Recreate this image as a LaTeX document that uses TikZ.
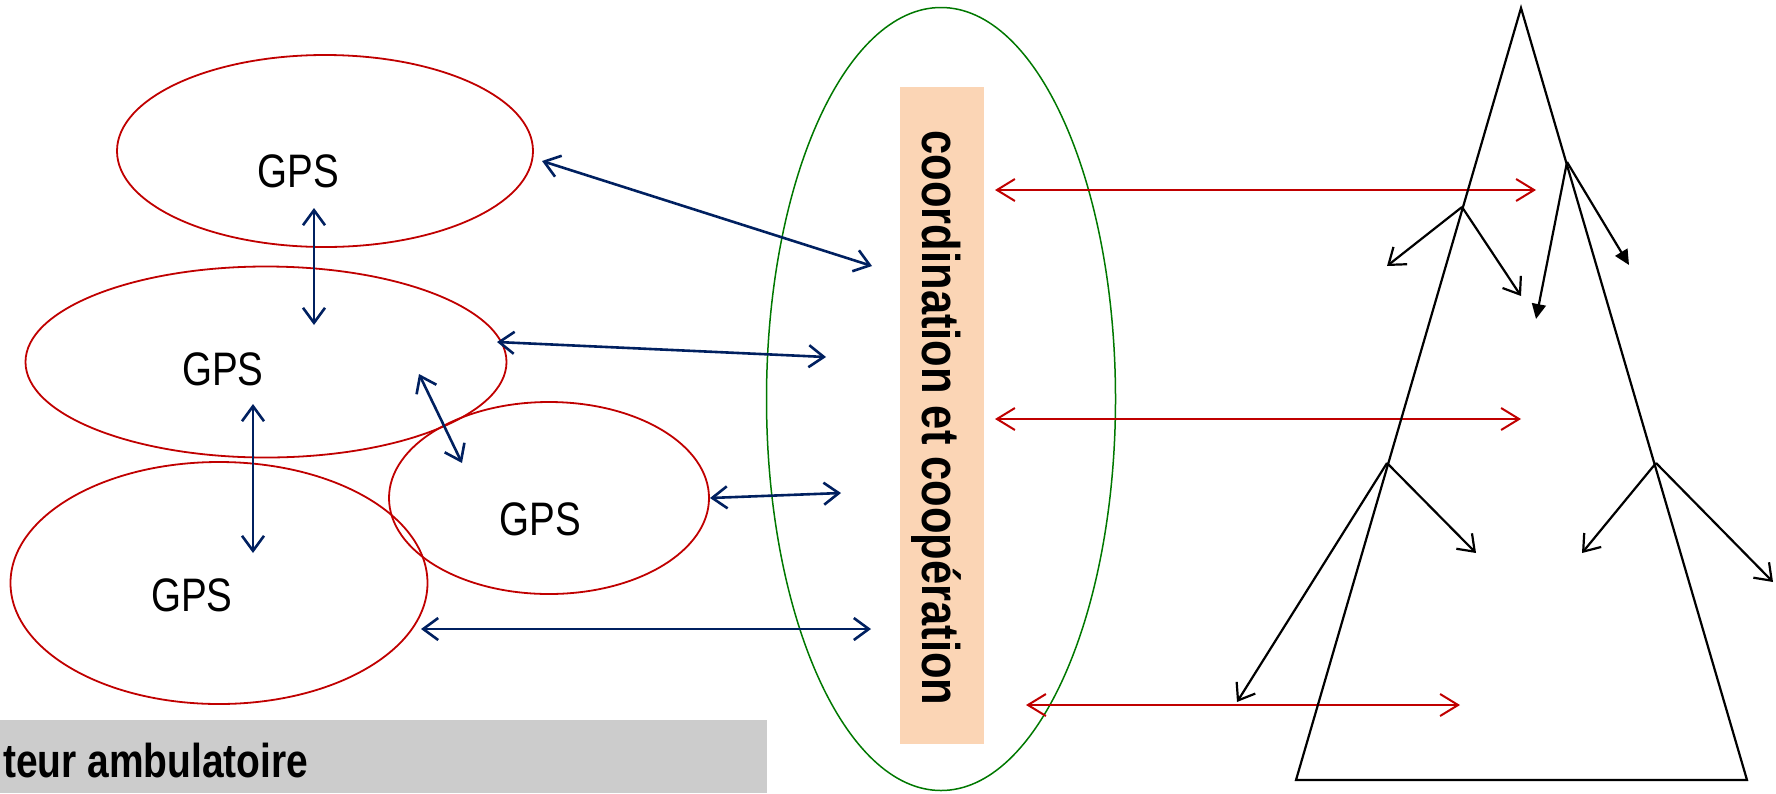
\documentclass[tikz,border=0pt]{standalone}
\usepackage{fontspec}
\setmainfont{Liberation Sans}[FakeStretch=0.82]
\usepackage{xcolor}
\usepackage{tikz}
\usetikzlibrary{shapes,arrows,arrows.meta}
\usetikzlibrary{positioning}
\definecolor{navy}{RGB}{0,32,96}
\definecolor{gpsred}{RGB}{192,0,0}
\definecolor{ringgreen}{RGB}{0,120,0}
\definecolor{peach}{RGB}{251,213,181}
\definecolor{boxgray}{RGB}{204,204,204}

\begin{document}
\begin{tikzpicture}[x=1pt,y=-1pt]

\useasboundingbox (0,0) rectangle (1776,793);

\tikzset{>={Straight Barb[length=15pt,width=22pt]}}
\def\gpssize{\fontsize{47}{47}\selectfont}
\tikzstyle{gps} = [ellipse, draw=gpsred, line width=1.8pt, inner sep=0pt];
\tikzstyle{gpstext} = [font=\gpssize, anchor=base, inner sep=0pt];
\tikzstyle{link} = [<->, navy, line width=2.6pt];
\tikzstyle{coop} = [<->, gpsred, line width=2pt, >={Straight Barb[length=18pt,width=22pt]}];
\tikzstyle{twig} = [->, black, line width=2.2pt];
\tikzstyle{twigfill} = [-{Triangle[length=15pt,width=14pt]}, black, line width=2.2pt];

% GPS ovals
\node[gps, minimum width=416pt, minimum height=192pt] (e1) at (325,151) {};
\node[gps, minimum width=481pt, minimum height=191pt] (e2) at (266,362) {};
\node[gps, minimum width=320pt, minimum height=192pt] (e3) at (549,498) {};
\node[gps, minimum width=417pt, minimum height=242pt] (e4) at (219,583) {};
\node[gpstext] (g1) at (298,187) {GPS};
\node[gpstext] (g2) at (223,385) {GPS};
\node[gpstext] (g3) at (540,535) {GPS};
\node[gpstext] (g4) at (192,611) {GPS};

% coordination ring
\node[ellipse, draw=ringgreen, line width=1.5pt, inner sep=0pt,
      minimum width=349pt, minimum height=783pt] (ring) at (941,399) {};
\node[fill=peach, rotate=-90, inner sep=0pt,
      minimum width=657pt, minimum height=84pt] (coopbox) at (942.4,415.7) {};
\node[rotate=-90, anchor=base, inner sep=0pt,
      font=\bfseries\fontsize{53}{53}\selectfont] (cooptext) at (922,418) {coordination et coopération};

% sector banner
\node[fill=boxgray, anchor=north west, inner sep=0pt,
      minimum width=767pt, minimum height=73pt] (sector) at (0,720) {};
\node[anchor=base west, inner sep=0pt,
      font=\bfseries\fontsize{47.5}{47.5}\selectfont] (sectortext) at (3,777) {teur ambulatoire};

% blue links
\coordinate (l1a) at (542,161);  \coordinate (l1b) at (872,266);
\coordinate (l2a) at (497,342);  \coordinate (l2b) at (826,357);
\coordinate (l3a) at (419,374);  \coordinate (l3b) at (462,463);
\coordinate (l4a) at (710,498);  \coordinate (l4b) at (841,493);
\coordinate (l5a) at (421,629);  \coordinate (l5b) at (871,629);
\coordinate (l6a) at (314,208);  \coordinate (l6b) at (314,325);
\coordinate (l7a) at (253,404);  \coordinate (l7b) at (253,553);
\foreach \i in {1,...,7}
  \draw[link] (l\i a) -- (l\i b);

% red links
\coordinate (r1a) at (995,190);  \coordinate (r1b) at (1536,190);
\coordinate (r2a) at (995,419);  \coordinate (r2b) at (1521,419);
\coordinate (r3a) at (1026,705); \coordinate (r3b) at (1460,705);
\foreach \i in {1,2,3}
  \draw[coop] (r\i a) -- (r\i b);

% tree
\coordinate (apex) at (1521,8);
\coordinate (foot1) at (1296,780);
\coordinate (foot2) at (1747,780);
\draw[line width=2.2pt] (apex) -- (foot1) -- (foot2) -- cycle;

\coordinate (ka) at (1462,207);
\coordinate (kb) at (1567,162);
\coordinate (kc) at (1387,463);
\coordinate (kd) at (1656,463);
\draw[twig] (ka) -- (1387,266);
\draw[twig] (ka) -- (1521,296);
\draw[twigfill] (kb) -- (1536,319);
\draw[twigfill] (kb) -- (1629,265);
\draw[twig] (kc) -- (1476,553);
\draw[twig] (kc) -- (1237,702);
\draw[twig] (kd) -- (1582,553);
\draw[twig] (kd) -- (1773,582);

\end{tikzpicture}
\end{document}
